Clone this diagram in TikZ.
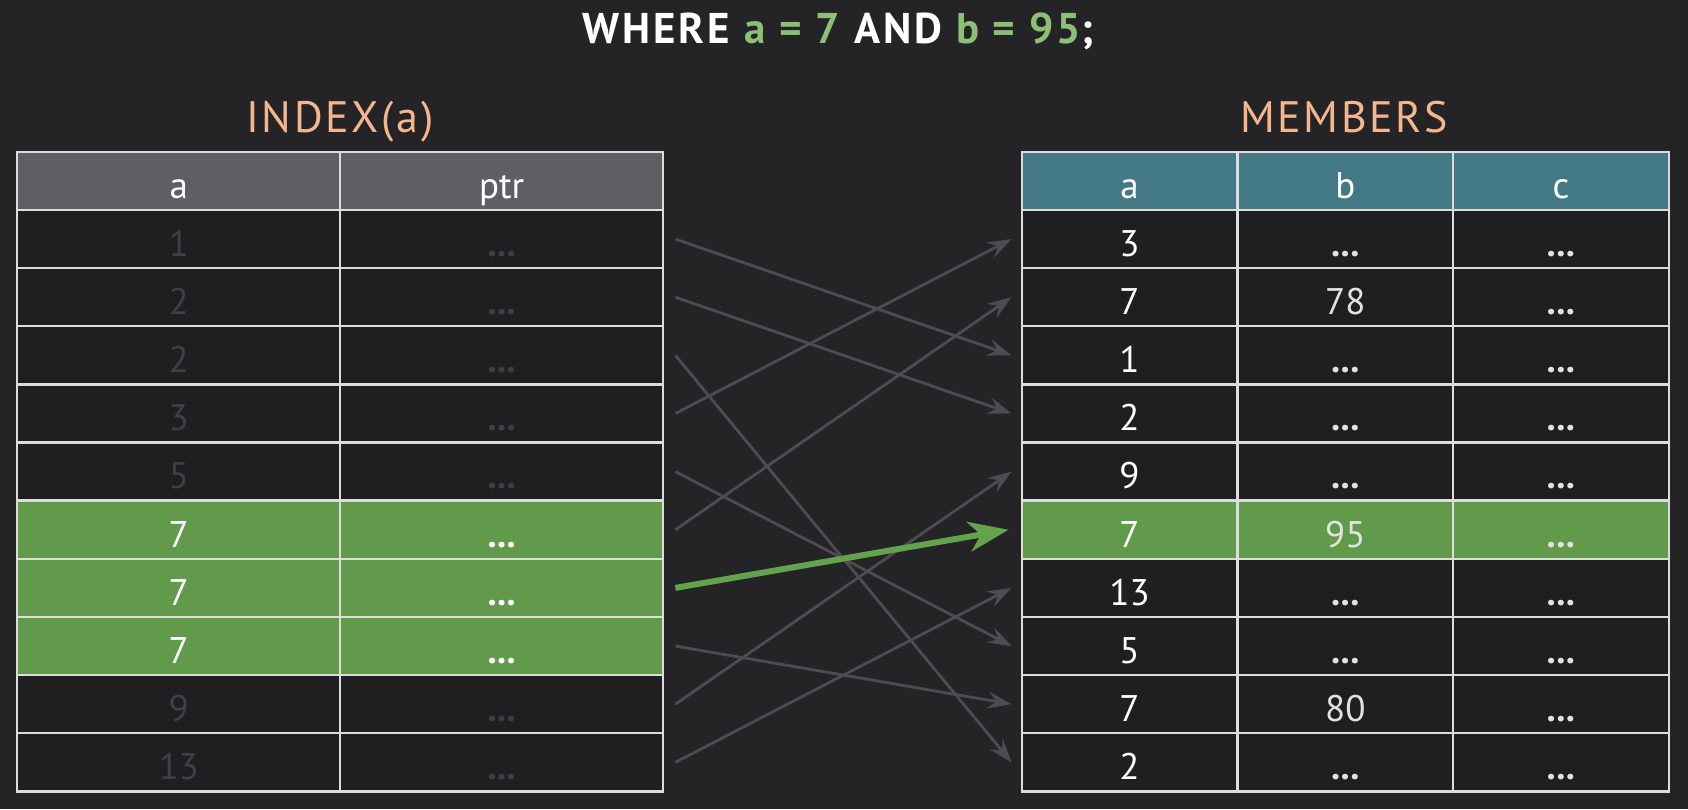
\documentclass[tikz,border=0pt]{standalone}
\usepackage{fontspec}
\setmainfont{PT Sans}
\usetikzlibrary{arrows.meta}
\definecolor{bg}{HTML}{242326}
\definecolor{cellbg}{HTML}{1F1E21}
\definecolor{gridc}{HTML}{DCDCDC}
\definecolor{hdgray}{HTML}{5F5E62}
\definecolor{hdteal}{HTML}{427985}
\definecolor{hlgreen}{HTML}{619A4B}
\definecolor{arrowgreen}{HTML}{64A34D}
\definecolor{titlegreen}{HTML}{8DC077}
\definecolor{peach}{HTML}{F4B68F}
\definecolor{faded}{HTML}{403F43}
\definecolor{arrowgray}{HTML}{4D4C50}
\definecolor{softwhite}{HTML}{E2E2E2}
\newcommand\dotsval{\textbf{...}}
\begin{document}
\begin{tikzpicture}[x=1pt,y=-1pt,
  cell/.style={draw=gridc, line width=2.4pt, inner sep=0pt, text height=46.3pt, text depth=11.8pt, anchor=north west, font=\fontsize{37}{40}\selectfont},
  lcell/.style={cell, minimum width=323pt},
  rcell/.style={cell, minimum width=215.7pt},
  heading/.style={anchor=base, text=peach, font=\fontsize{44}{48}\selectfont\addfontfeatures{LetterSpace=6}},
  ptrarrow/.style={draw=arrowgray, line width=2.8pt, -{Stealth[length=24pt,width=17pt,inset=9pt]}},
  hitarrow/.style={draw=arrowgreen, line width=6pt, -{Stealth[length=40pt,width=30pt,inset=12pt]}}
]
\useasboundingbox (0,0) rectangle (1688,809);
\fill[bg] (0,0) rectangle (1688,809);

\node[anchor=base, text=white, font=\fontsize{43}{48}\selectfont\bfseries\addfontfeatures{LetterSpace=7}] (title) at (838,43)
  {WHERE \textcolor{titlegreen}{a = 7} AND \textcolor{titlegreen}{b = 95};};
\node[heading] (idx) at (340,132) {INDEX(a)};
\node[heading] (mem) at (1344,132) {MEMBERS};

% left table (index)
\node[lcell, fill=hdgray, text=white] (lha) at (16,150.7) {a};
\node[lcell, fill=hdgray, text=white] (lhp) at (339,150.7) {ptr};
\foreach \v/\f/\t [count=\i] in {1/cellbg/faded,2/cellbg/faded,2/cellbg/faded,3/cellbg/faded,5/cellbg/faded,7/hlgreen/white,7/hlgreen/white,7/hlgreen/white,9/cellbg/faded,13/cellbg/faded}{
  \pgfmathsetmacro\y{208.8+58.14*(\i-1)}
  \node[lcell, fill=\f, text=\t] (la\i) at (16,\y) {\v};
  \node[lcell, fill=\f, text=\t] (lp\i) at (339,\y) {\dotsval};
}

% right table (members)
\node[rcell, fill=hdteal, text=white] (rha) at (1020.5,150.7) {a};
\node[rcell, fill=hdteal, text=white] (rhb) at (1236.2,150.7) {b};
\node[rcell, fill=hdteal, text=white] (rhc) at (1451.8,150.7) {c};
\foreach \va/\vb/\f [count=\i] in {3/\dotsval/cellbg,7/78/cellbg,1/\dotsval/cellbg,2/\dotsval/cellbg,9/\dotsval/cellbg,7/95/hlgreen,13/\dotsval/cellbg,5/\dotsval/cellbg,7/80/cellbg,2/\dotsval/cellbg}{
  \pgfmathsetmacro\y{208.8+58.14*(\i-1)}
  \node[rcell, fill=\f, text=white] (ra\i) at (1020.5,\y) {\va};
  \node[rcell, fill=\f, text=softwhite] (rb\i) at (1236.2,\y) {\vb};
  \node[rcell, fill=\f, text=softwhite] (rc\i) at (1451.8,\y) {\dotsval};
}

% pointers
\draw[ptrarrow] ([xshift=11pt]lp1.east) -- ([xshift=-9pt]ra3.west);
\draw[ptrarrow] ([xshift=11pt]lp2.east) -- ([xshift=-9pt]ra4.west);
\draw[ptrarrow] ([xshift=11pt]lp3.east) -- ([xshift=-9pt]ra10.west);
\draw[ptrarrow] ([xshift=11pt]lp4.east) -- ([xshift=-9pt]ra1.west);
\draw[ptrarrow] ([xshift=11pt]lp5.east) -- ([xshift=-9pt]ra8.west);
\draw[ptrarrow] ([xshift=11pt]lp6.east) -- ([xshift=-9pt]ra2.west);
\draw[ptrarrow] ([xshift=11pt]lp8.east) -- ([xshift=-9pt]ra9.west);
\draw[ptrarrow] ([xshift=11pt]lp9.east) -- ([xshift=-9pt]ra5.west);
\draw[ptrarrow] ([xshift=11pt]lp10.east) -- ([xshift=-9pt]ra7.west);
\draw[hitarrow] ([xshift=11pt]lp7.east) -- ([xshift=-12pt]ra6.west);
\end{tikzpicture}
\end{document}
